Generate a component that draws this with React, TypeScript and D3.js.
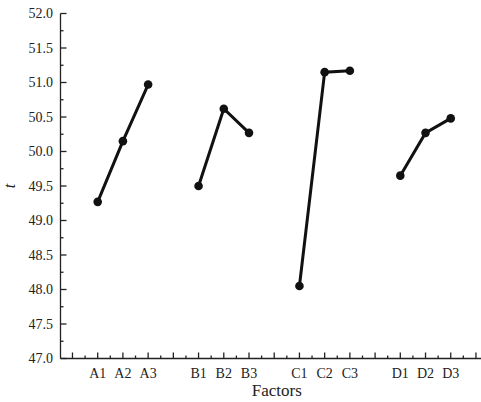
import React from "react";
import * as d3 from "d3";

// Level positions on the factor axis (integer slots), labels and mean t values
const factors = ["A", "B", "C", "D"];
const levelLabels = ["A1", "A2", "A3", "B1", "B2", "B3", "C1", "C2", "C3", "D1", "D2", "D3"];
const levelSlots = [1, 2, 3, 5, 6, 7, 9, 10, 11, 13, 14, 15];
const meanT = [49.27, 50.15, 50.97, 49.5, 50.62, 50.27, 48.05, 51.15, 51.17, 49.65, 50.27, 50.48];
const yTicks = [47.0, 47.5, 48.0, 48.5, 49.0, 49.5, 50.0, 50.5, 51.0, 51.5, 52.0];

const W = 481;
const H = 402;
const left = 60.5;
const top = 13.5;
const bottom = 358.5;
const right = 481;

export default function App() {
  const x = d3.scaleLinear().domain([-0.475, 16.2]).range([left, right]);
  const y = d3.scaleLinear().domain([47, 52]).range([bottom, top]);

  const majorX = d3.range(0, 17);
  const minorX = d3.range(0, 16).map((k) => k + 0.5);
  const minorY = d3.range(47.25, 52, 0.5);

  const line = d3
    .line<number>()
    .x((i) => x(levelSlots[i]))
    .y((i) => y(meanT[i]));

  const font = "'Liberation Serif', 'Times New Roman', serif";

  return (
    <svg width={W} height={H} style={{ position: "absolute", left: 0, top: 0, background: "#fff" }}>
      {/* axes */}
      <g stroke="#222" strokeWidth={1.3} fill="none">
        <line x1={left} y1={top} x2={left} y2={bottom} />
        <line x1={left} y1={bottom} x2={right} y2={bottom} />
        {yTicks.map((v) => (
          <line key={"ym" + v} x1={left} x2={left + 6} y1={y(v)} y2={y(v)} />
        ))}
        {minorY.map((v) => (
          <line key={"yn" + v} x1={left} x2={left + 3} y1={y(v)} y2={y(v)} />
        ))}
        {majorX.map((k) => (
          <line key={"xm" + k} x1={x(k)} x2={x(k)} y1={bottom} y2={bottom - 6} />
        ))}
        {minorX.map((k) => (
          <line key={"xn" + k} x1={x(k)} x2={x(k)} y1={bottom} y2={bottom - 3} />
        ))}
      </g>

      {/* tick labels */}
      <g fontFamily={font} fontSize={14} fill="#222">
        {yTicks.map((v) => (
          <text key={"yl" + v} x={53} y={y(v)} dy="0.35em" textAnchor="end">
            {v.toFixed(1)}
          </text>
        ))}
        {levelLabels.map((l, i) => (
          <text key={"xl" + l} x={x(levelSlots[i])} y={378} textAnchor="middle">
            {l}
          </text>
        ))}
      </g>

      {/* axis titles */}
      <text x={x(8.1)} y={396} textAnchor="middle" fontFamily={font} fontSize={17} fill="#222">
        Factors
      </text>
      <text
        x={15}
        y={186}
        textAnchor="middle"
        fontFamily={font}
        fontSize={16}
        fontStyle="italic"
        fill="#222"
        transform="rotate(-90 15 186)"
      >
        t
      </text>

      {/* one polyline per factor */}
      {factors.map((f, fi) => {
        const idx = [fi * 3, fi * 3 + 1, fi * 3 + 2];
        return (
          <g key={f}>
            <path d={line(idx) || ""} fill="none" stroke="#111" strokeWidth={3} />
            {idx.map((i) => (
              <circle key={i} cx={x(levelSlots[i])} cy={y(meanT[i])} r={4.3} fill="#111" />
            ))}
          </g>
        );
      })}
    </svg>
  );
}
